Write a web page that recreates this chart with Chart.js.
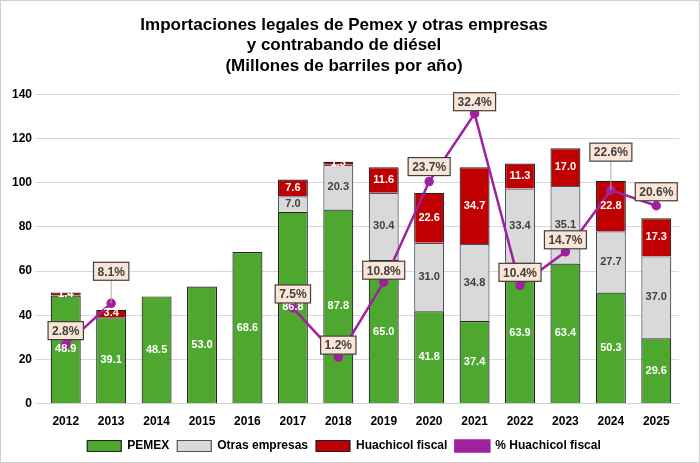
<!DOCTYPE html>
<html><head><meta charset="utf-8">
<script src="https://cdn.jsdelivr.net/npm/chart.js@4"></script>
<style>body{margin:0;background:#fff}#wrap{width:700px;height:463px;box-sizing:border-box;border:1px solid #d0d0d0}</style>
</head><body><div id="wrap"><canvas id="c" width="698" height="461"></canvas></div>
<script>
// chart data
const years = ['2012','2013','2014','2015','2016','2017','2018','2019','2020','2021','2022','2023','2024','2025']
const pemex = [48.9, 39.1, 48.5, 53.0, 68.6, 86.8, 87.8, 65.0, 41.8, 37.4, 63.9, 63.4, 50.3, 29.6]
const otras = [null, null, null, null, null, 7.0, 20.3, 30.4, 31.0, 34.8, 33.4, 35.1, 27.7, 37.0]
const huachicol = [1.4, 3.4, null, null, null, 7.6, 1.3, 11.6, 22.6, 34.7, 11.3, 17.0, 22.8, 17.3]
const pctHuachicol = [2.8, 8.1, null, null, null, 7.5, 1.2, 10.8, 23.7, 32.4, 10.4, 14.7, 22.6, 20.6]

// label box offsets from the line points (px)
const pctOffsets = [-14, -32, 0, 0, 0, -14, -12, -12, -15, -12, -13, -12, -38, -14]

const segLabels = {
  id: 'segLabels',
  afterDatasetsDraw(chart) {
    const ctx = chart.ctx
    ctx.save()
    ctx.textAlign = 'center'
    ctx.textBaseline = 'middle'
    ctx.font = 'bold 11px "Liberation Sans", Arial'
    ;[0, 1, 2].forEach((di) => {
      const meta = chart.getDatasetMeta(di)
      meta.data.forEach((bar, i) => {
        const v = chart.data.datasets[di].data[i]
        if (v == null) return
        ctx.fillStyle = di === 1 ? '#404040' : '#ffffff'
        ctx.fillText(v.toFixed(1), bar.x, (bar.y + bar.base) / 2)
      })
    })
    // percentage boxes
    const meta = chart.getDatasetMeta(3)
    ctx.font = 'bold 12px "Liberation Sans", Arial'
    meta.data.forEach((pt, i) => {
      const v = pctHuachicol[i]
      if (v == null) return
      const dy = pctOffsets[i]
      const x = pt.x
      const y = pt.y + dy
      const t = v.toFixed(1) + '%'
      const w = ctx.measureText(t).width + 8
      if (Math.abs(dy) > 20) {
        ctx.strokeStyle = '#aaaaaa'
        ctx.lineWidth = 1
        ctx.beginPath(); ctx.moveTo(pt.x, pt.y); ctx.lineTo(x, y); ctx.stroke()
      }
      ctx.fillStyle = '#fbe5d6'
      ctx.fillRect(x - w / 2, y - 9, w, 18)
      ctx.strokeStyle = '#404040'
      ctx.lineWidth = 1.2
      ctx.strokeRect(x - w / 2, y - 9, w, 18)
      ctx.fillStyle = '#404040'
      ctx.fillText(t, x, y + 1)
    })
    ctx.restore()
  }
}

new Chart(document.getElementById('c'), {
  data: {
    labels: years,
    datasets: [
      { type: 'bar', label: 'PEMEX', data: pemex, backgroundColor: '#4ea72e', borderColor: '#222', borderWidth: 1.2, stack: 's', categoryPercentage: 0.66, barPercentage: 1, order: 2 },
      { type: 'bar', label: 'Otras empresas', data: otras, backgroundColor: '#d9d9d9', borderColor: '#44546a', borderWidth: 1.2, stack: 's', categoryPercentage: 0.66, barPercentage: 1, order: 2 },
      { type: 'bar', label: 'Huachicol fiscal', data: huachicol, backgroundColor: '#c00000', borderColor: '#222', borderWidth: 1.2, stack: 's', categoryPercentage: 0.66, barPercentage: 1, order: 2 },
      { type: 'line', label: '% Huachicol fiscal', data: pctHuachicol, yAxisID: 'y2', borderColor: '#a020a0', backgroundColor: '#a020a0', borderWidth: 2.5, pointRadius: 3.5, spanGaps: false, order: 1 }
    ]
  },
  options: {
    responsive: false,
    animation: false,
    layout: { padding: { left: 8, right: 20, top: 8, bottom: 0 } },
    plugins: {
      title: { display: true, text: ['Importaciones legales de Pemex y otras empresas', 'y contrabando de diésel', '(Millones de barriles por año)'], color: '#000', font: { size: 17, weight: 'bold', family: '"Liberation Sans", Arial' }, padding: { top: 6, bottom: 18 }, lineHeight: 1.38 },
      legend: {
        position: 'bottom',
        labels: {
          color: '#000', font: { size: 12, weight: 'bold', family: '"Liberation Sans", Arial' }, boxWidth: 34, boxHeight: 11, padding: 8,
          sort: (a, b) => a.datasetIndex - b.datasetIndex,
          generateLabels(chart) {
            const items = Chart.defaults.plugins.legend.labels.generateLabels(chart)
            items.forEach((it) => {
              if (it.datasetIndex === 3) { it.pointStyle = 'line'; it.lineWidth = 2.5 }
            })
            return items
          }
        }
      },
      tooltip: { enabled: false }
    },
    scales: {
      x: { stacked: true, grid: { display: false }, border: { color: '#d0d0d0' }, ticks: { color: '#000', font: { size: 12, weight: 'bold', family: '"Liberation Sans", Arial' } } },
      y: { stacked: true, min: 0, max: 140, ticks: { stepSize: 20, color: '#000', font: { size: 12, weight: 'bold', family: '"Liberation Sans", Arial' } }, grid: { color: '#d9d9d9' }, border: { display: false } },
      y2: { display: false, min: -4.76, max: 34.9 }
    }
  },
  plugins: [segLabels]
})
</script></body></html>
